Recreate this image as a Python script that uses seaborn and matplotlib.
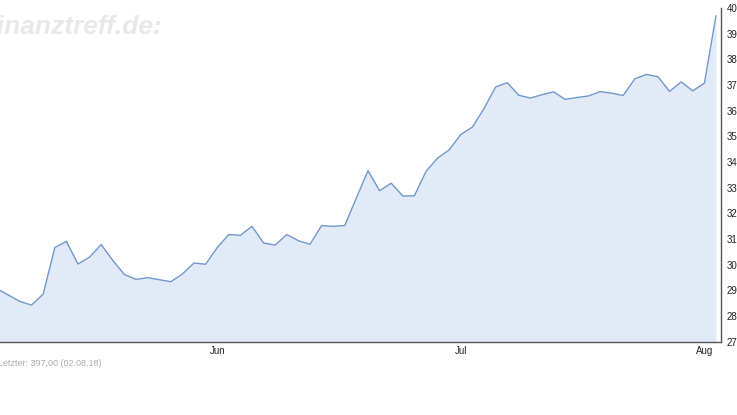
import matplotlib
matplotlib.use("Agg")
import matplotlib.pyplot as plt
import seaborn as sns
import pandas as pd

# Daily closing prices (trading-day index)
prices = [290.6, 288.1, 285.6, 284.2, 288.5, 306.6, 309.0, 300.2, 302.9, 307.8,
          301.6, 296.1, 294.2, 294.9, 294.1, 293.3, 296.3, 300.6, 300.1, 306.6,
          311.7, 311.4, 314.9, 308.4, 307.6, 311.7, 309.3, 307.9, 315.2, 314.9,
          315.2, 326.0, 336.6, 328.8, 331.7, 326.7, 326.8, 336.3, 341.5, 344.7,
          350.7, 353.6, 360.8, 369.2, 370.9, 366.0, 364.9, 366.2, 367.3, 364.4,
          365.1, 365.7, 367.4, 366.8, 365.9, 372.4, 374.1, 373.2, 367.5, 371.2,
          367.7, 370.7, 397.0]
day_index = list(range(-2, len(prices) - 2))

month_labels = ["Jun", "Jul", "Aug"]
month_positions = [17, 38, 59]

y_ticks = [270, 280, 290, 300, 310, 320, 330, 340, 350, 360, 370, 380, 390, 400]

watermark = "finanztreff.de:"
footer = "Letzter: 397,00 (02.08.18)"

df = pd.DataFrame({"day": day_index, "price": prices})

sns.set_theme(style="white")
plt.rcParams["font.family"] = ["Liberation Sans", "DejaVu Sans"]

W, H = 737, 415
fig = plt.figure(figsize=(W / 100, H / 100), dpi=100)
left_px, right_px, top_px, bottom_px = 0, 721, 8, 341.5
ax = fig.add_axes([left_px / W, 1 - bottom_px / H,
                   (right_px - left_px) / W, (bottom_px - top_px) / H])

line_color = "#6f97cd"
fill_color = "#e1eaf6"

ax.fill_between(df["day"], df["price"], y_ticks[0], color=fill_color, linewidth=0)
sns.lineplot(data=df, x="day", y="price", ax=ax, color=line_color, linewidth=1.0)

px_per_day = 11.6
x0 = 20.0
ax.set_xlim((left_px - x0) / px_per_day - 2 + 2, (right_px - x0) / px_per_day)
ax.set_ylim(y_ticks[0], y_ticks[-1])

ax.set_xticks(month_positions)
ax.set_xticklabels(month_labels)
ax.set_yticks(y_ticks)
ax.set_yticklabels([str(t) for t in y_ticks])
ax.yaxis.tick_right()
ax.set_xlabel("")
ax.set_ylabel("")

for s in ["top", "left"]:
    ax.spines[s].set_visible(False)
for s in ["bottom", "right"]:
    ax.spines[s].set_visible(True)
    ax.spines[s].set_color("#555555")
    ax.spines[s].set_linewidth(1.0)

ax.tick_params(axis="x", length=3, width=0.8, color="#555555", pad=2,
               labelsize=7, labelcolor="#222222", direction="inout")
ax.tick_params(axis="y", length=0, pad=4, labelsize=7, labelcolor="#222222")
ax.grid(False)
ax.set_facecolor("white")

fig.text(-12 / W, 1 - 27 / H, watermark, fontsize=19, fontweight="bold",
         fontstyle="italic", color="#e8e8e8", va="center", ha="left")
fig.text(-2 / W, 1 - 363 / H, footer, fontsize=6.5, color="#aaaaaa",
         va="center", ha="left")

fig.savefig("out.png", dpi=100)
